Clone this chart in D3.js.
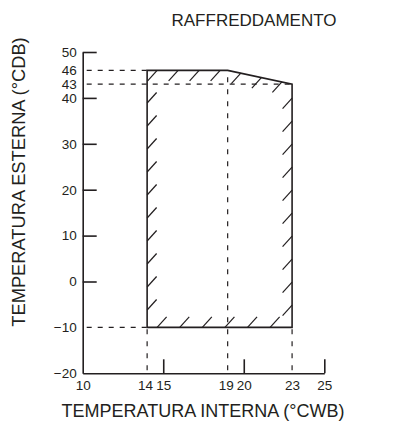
<!DOCTYPE html>
<html lang="it">
<head>
<meta charset="utf-8">
<title>Raffreddamento</title>
<script src="https://d3js.org/d3.v7.min.js"></script>
<style>
  body { margin: 0; background: #fff; }
  text { font-family: "Liberation Sans", Arial, sans-serif; fill: #231f20; }
</style>
</head>
<body>
<script>
// operating envelope (cooling): indoor wet bulb vs outdoor dry bulb
var envWB = [14, 14, 19, 23, 23];
var envDB = [-10, 46, 46, 43, -10];

var xTickMarks = [15, 20, 25];
var xTickLabels = [10, 14, 15, 19, 20, 23, 25];
var yTickMarks = [50, 40, 30, 20, 10, 0];
var yTickLabels = [50, 46, 43, 40, 30, 20, 10, 0, -10, -20];

// dashed guides: horizontal [db, wbFrom, wbTo], vertical [wb, dbFrom, dbTo]
var hGuides = [[46, 10, 14], [43, 10, 23], [-10, 10, 14]];
var vGuides = [[14, -20, -10], [19, -20, 46], [23, -20, -10]];

var width = 401, height = 429;
var ink = "#231f20";

var svg = d3.select("body").append("svg")
    .attr("width", width)
    .attr("height", height);

var x = d3.scaleLinear().domain([10, 25]).range([82.7, 324.3]);
var y = d3.scaleLinear().domain([-20, 50]).range([373.3, 52]);

// title
svg.append("text")
    .attr("x", 254)
    .attr("y", 26)
    .attr("text-anchor", "middle")
    .attr("font-size", "17px")
    .text("RAFFREDDAMENTO");

// axis titles
svg.append("text")
    .attr("x", 203)
    .attr("y", 417)
    .attr("text-anchor", "middle")
    .attr("font-size", "18px")
    .text("TEMPERATURA INTERNA (°CWB)");

svg.append("text")
    .attr("transform", "translate(25,182) rotate(-90)")
    .attr("text-anchor", "middle")
    .attr("font-size", "18.3px")
    .text("TEMPERATURA ESTERNA (°CDB)");

// dashed guide lines
var guides = svg.append("g")
    .attr("stroke", ink)
    .attr("stroke-width", 1.2)
    .attr("stroke-dasharray", "5,6")
    .attr("fill", "none");

guides.selectAll("line.h")
  .data(hGuides)
  .enter().append("line")
    .attr("class", "h")
    .attr("x1", function(d) { return x(d[1]) + 4; })
    .attr("x2", function(d) { return x(d[2]); })
    .attr("y1", function(d) { return y(d[0]); })
    .attr("y2", function(d) { return y(d[0]); });

guides.selectAll("line.v")
  .data(vGuides)
  .enter().append("line")
    .attr("class", "v")
    .attr("x1", function(d) { return x(d[0]); })
    .attr("x2", function(d) { return x(d[0]); })
    .attr("y1", function(d) { return y(d[1]) - 3; })
    .attr("y2", function(d) { return y(d[2]); })
    .attr("stroke-dasharray", "5,7");

// envelope outline
var pts = envWB.map(function(wb, i) { return [x(wb), y(envDB[i])]; });

svg.append("path")
    .attr("d", d3.line()(pts) + "Z")
    .attr("fill", "none")
    .attr("stroke", ink)
    .attr("stroke-width", 1.6);

// hatching along the inside of each edge
function hatchAlong(poly, start, gap, dir, margin) {
    var segs = [], total = 0;
    for (var i = 0; i < poly.length - 1; i++) {
        var a = poly[i], b = poly[i + 1];
        var len = Math.hypot(b[0] - a[0], b[1] - a[1]);
        segs.push({a: a, b: b, len: len, s: total});
        total += len;
    }
    var out = [];
    for (var t = start; t <= total - margin; t += gap) {
        var sg = segs.find(function(s) { return t >= s.s && t <= s.s + s.len; });
        var f = (t - sg.s) / sg.len;
        var px = sg.a[0] + f * (sg.b[0] - sg.a[0]);
        var py = sg.a[1] + f * (sg.b[1] - sg.a[1]);
        out.push([px, py, px + dir[0], py + dir[1]]);
    }
    return out;
}

var up = [9.5, -10.5], down = [-9.5, 10.5];
var hatches = []
    .concat(hatchAlong([pts[0], pts[1]], 17.4, 23, up, 30))         // left edge
    .concat(hatchAlong([pts[1], pts[2], pts[3]], 10, 21, down, 8))  // top edges
    .concat(hatchAlong([pts[3], pts[4]], 14, 23, down, 14))         // right edge
    .concat(hatchAlong([pts[0], pts[4]], 10, 22.6, up, 12));        // bottom edge

svg.append("g")
    .attr("stroke", ink)
    .attr("stroke-width", 1.2)
  .selectAll("line")
  .data(hatches)
  .enter().append("line")
    .attr("x1", function(d) { return d[0]; })
    .attr("y1", function(d) { return d[1]; })
    .attr("x2", function(d) { return d[2]; })
    .attr("y2", function(d) { return d[3]; });

// axes: inward tick marks + labels
var yAxis = svg.append("g")
    .attr("transform", "translate(" + x(10) + ",0)")
    .call(d3.axisLeft(y).tickValues(yTickMarks).tickSizeInner(-14).tickSizeOuter(0).tickFormat(""));

var xAxis = svg.append("g")
    .attr("transform", "translate(0," + y(-20) + ")")
    .call(d3.axisBottom(x).tickValues(xTickMarks).tickSizeInner(-14).tickSizeOuter(0).tickFormat(""));

[yAxis, xAxis].forEach(function(g) {
    g.selectAll("path, line").attr("stroke", ink).attr("stroke-width", 1.6);
});

var yLab = svg.append("g")
    .attr("transform", "translate(" + x(10) + ",0)")
    .call(d3.axisLeft(y).tickValues(yTickLabels).tickSize(0).tickPadding(6));

var xLab = svg.append("g")
    .attr("transform", "translate(0," + y(-20) + ")")
    .call(d3.axisBottom(x).tickValues(xTickLabels).tickSize(0).tickPadding(7));

[yLab, xLab].forEach(function(g) {
    g.select(".domain").remove();
    g.selectAll("text")
        .attr("font-family", "'Liberation Sans', Arial, sans-serif")
        .attr("font-size", "13.5px")
        .attr("fill", ink);
});

// the left label of each close pair sits a bit to the left
xLab.selectAll("text")
    .filter(function(d) { return d === 14 || d === 19; })
    .attr("dx", -2);
</script>
</body>
</html>
